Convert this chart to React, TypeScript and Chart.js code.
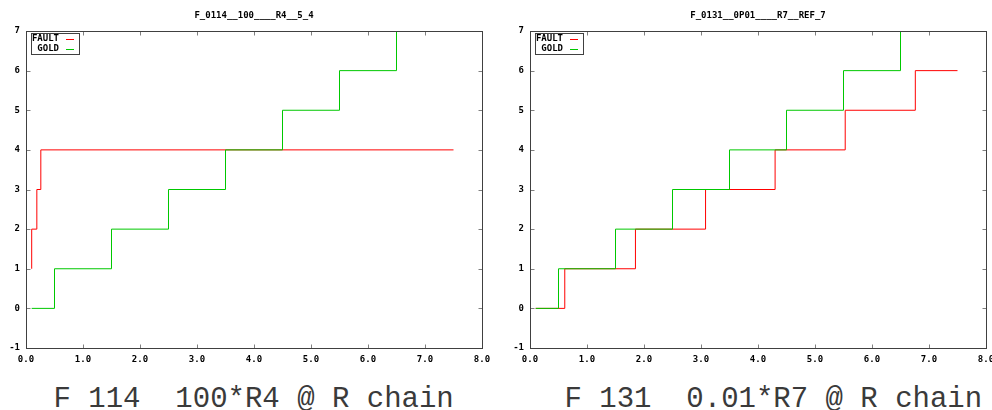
import React, { useEffect, useRef } from "react";
import { Chart, registerables } from "chart.js";

Chart.register(...registerables);

// ---- data ----
const seriesNames = ["FAULT", "GOLD"];
const xTickValues = [0, 1, 2, 3, 4, 5, 6, 7, 8];
const yTickValues = [-1, 0, 1, 2, 3, 4, 5, 6, 7];

const leftTitle = "F_0114__100____R4__5_4";
const leftCaption = "F 114  100*R4 @ R chain";
const leftFaultX = [0.1, 0.1, 0.19, 0.26, 7.5];
const leftFaultY = [1, 2, 3, 4, 4];
const leftGoldX = [0.1, 0.5, 1.5, 2.5, 3.5, 4.5, 5.5, 6.5];
const leftGoldY = [0, 1, 2, 3, 4, 5, 6, 7];

const rightTitle = "F_0131__0P01____R7__REF_7";
const rightCaption = "F 131  0.01*R7 @ R chain";
const rightFaultX = [0.1, 0.61, 1.85, 3.08, 4.3, 5.53, 6.76, 7.5];
const rightFaultY = [0, 1, 2, 3, 4, 5, 6, 6];
const rightGoldX = [0.1, 0.5, 1.5, 2.5, 3.5, 4.5, 5.5, 6.5];
const rightGoldY = [0, 1, 2, 3, 4, 5, 6, 7];

// ---- style ----
const RED = "rgb(255,0,0)";
const GREEN = "rgb(0,200,0)";
const FRAME = "#404040";
const TICKC = "#808080";
const SMALL_FONT = { family: "'DejaVu Sans Mono', monospace", size: 9, weight: "bold" as const };

const toPts = (xs: number[], ys: number[]) => xs.map((x, i) => ({ x, y: ys[i] }));

const framePlugin = {
  id: "frame",
  afterDatasetsDraw(chart: any) {
    const { ctx, chartArea, scales } = chart;
    const l = Math.floor(chartArea.left) + 0.5;
    const r = Math.floor(chartArea.right) + 0.5;
    const t = Math.floor(chartArea.top) + 0.5;
    const b = Math.floor(chartArea.bottom) + 0.5;
    ctx.save();
    ctx.lineWidth = 1;
    ctx.strokeStyle = TICKC;
    ctx.beginPath();
    xTickValues.forEach((v) => {
      const px = Math.round(scales.x.getPixelForValue(v)) + 0.5;
      ctx.moveTo(px, b);
      ctx.lineTo(px, b - 4);
      ctx.moveTo(px, t);
      ctx.lineTo(px, t + 4);
    });
    yTickValues.forEach((v) => {
      const py = Math.round(scales.y.getPixelForValue(v)) + 0.5;
      ctx.moveTo(l, py);
      ctx.lineTo(l + 4, py);
      ctx.moveTo(r, py);
      ctx.lineTo(r - 4, py);
    });
    ctx.stroke();
    ctx.strokeStyle = FRAME;
    ctx.strokeRect(l, t, r - l, b - t);

    // legend (gnuplot style)
    const L = Math.floor(chartArea.left);
    const T = Math.floor(chartArea.top);
    ctx.strokeStyle = FRAME;
    ctx.strokeRect(L + 5.5, T + 2.5, 48, 21);
    ctx.font = `bold 9px 'DejaVu Sans Mono', monospace`;
    ctx.textAlign = "right";
    ctx.textBaseline = "middle";
    const colors = [RED, GREEN];
    seriesNames.forEach((name, i) => {
      const y = T + 8 + i * 10;
      ctx.fillStyle = "#000";
      ctx.fillText(name, L + 33, y);
      ctx.fillStyle = colors[i];
      ctx.fillRect(L + 40, y, 8, 1);
    });
    ctx.restore();
  },
};

function StepChart(props: {
  title: string;
  faultX: number[];
  faultY: number[];
  goldX: number[];
  goldY: number[];
}) {
  const ref = useRef<HTMLCanvasElement | null>(null);
  useEffect(() => {
    if (!ref.current) return;
    const chart = new Chart(ref.current, {
      type: "line",
      data: {
        datasets: [
          {
            label: seriesNames[0],
            data: toPts(props.faultX, props.faultY),
            borderColor: RED,
            backgroundColor: RED,
            borderWidth: 1,
            pointRadius: 0,
            stepped: "before",
            fill: false,
            order: 1,
          },
          {
            label: seriesNames[1],
            data: toPts(props.goldX, props.goldY),
            borderColor: GREEN,
            backgroundColor: GREEN,
            borderWidth: 1,
            pointRadius: 0,
            stepped: "before",
            fill: false,
            order: 0,
          },
        ],
      },
      options: {
        responsive: false,
        animation: false,
        layout: { padding: { left: 0, right: 22, top: 0, bottom: 0 } },
        plugins: {
          legend: { display: false },
          tooltip: { enabled: false },
          title: {
            display: true,
            text: props.title,
            fullSize: false,
            color: "#000",
            font: SMALL_FONT,
            padding: { top: 10, bottom: 10.2 },
          },
        },
        scales: {
          x: {
            type: "linear",
            min: 0,
            max: 8,
            afterFit: (s: any) => {
              s.height = 22;
            },
            grid: { display: false, drawTicks: false },
            border: { display: false },
            ticks: {
              stepSize: 1,
              autoSkip: false,
              maxRotation: 0,
              padding: 6,
              color: "#000",
              font: SMALL_FONT,
              callback: (v: any) => Number(v).toFixed(1),
            },
          },
          y: {
            type: "linear",
            min: -1,
            max: 7,
            afterFit: (s: any) => {
              s.width = 26;
            },
            grid: { display: false, drawTicks: false },
            border: { display: false },
            ticks: {
              stepSize: 1,
              autoSkip: false,
              padding: 6,
              color: "#000",
              font: SMALL_FONT,
              callback: (v: any) => String(v),
            },
          },
        },
      } as any,
      plugins: [framePlugin],
    });
    return () => chart.destroy();
  }, []);
  return <canvas ref={ref} width={504} height={370} style={{ display: "block", width: 504, height: 370 }} />;
}

const captionStyle: React.CSSProperties = {
  position: "absolute",
  top: 385,
  fontFamily: "'Liberation Mono', 'Courier New', monospace",
  fontSize: 29,
  lineHeight: "29px",
  whiteSpace: "pre",
  color: "#3a3a3a",
};

export default function App() {
  return (
    <div
      style={{
        position: "fixed",
        left: 0,
        top: 0,
        width: 992,
        height: 410,
        overflow: "hidden",
        background: "#fff",
      }}
    >
      <div style={{ position: "absolute", left: 0, top: 0 }}>
        <StepChart title={leftTitle} faultX={leftFaultX} faultY={leftFaultY} goldX={leftGoldX} goldY={leftGoldY} />
      </div>
      <div style={{ position: "absolute", left: 504, top: 0 }}>
        <StepChart title={rightTitle} faultX={rightFaultX} faultY={rightFaultY} goldX={rightGoldX} goldY={rightGoldY} />
      </div>
      <div style={{ ...captionStyle, left: 53.5 }}>{leftCaption}</div>
      <div style={{ ...captionStyle, left: 564.5 }}>{rightCaption}</div>
    </div>
  );
}
